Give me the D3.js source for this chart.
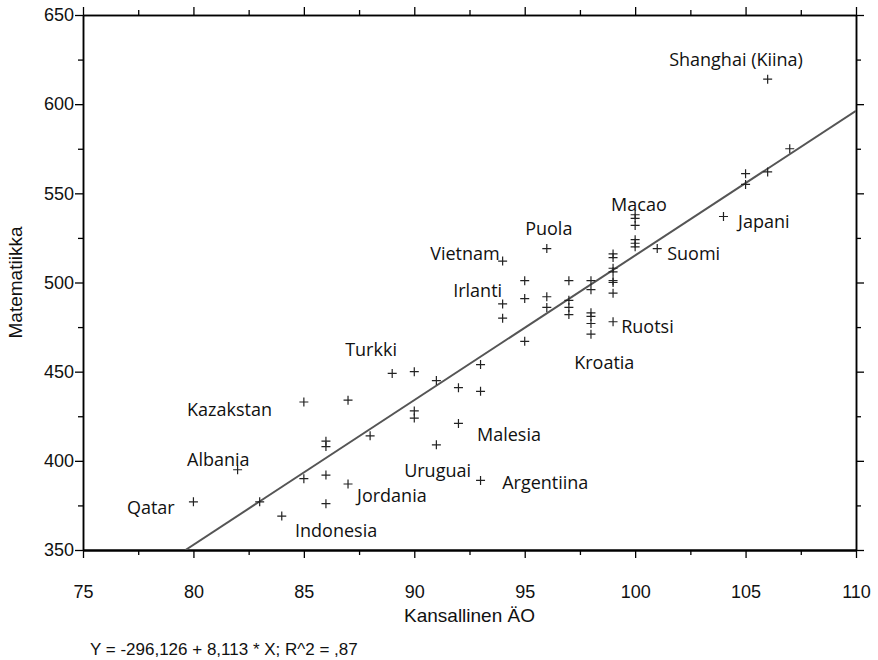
<!DOCTYPE html>
<html><head><meta charset="utf-8">
<script src="https://cdn.jsdelivr.net/npm/d3@7"></script>
<style>body{margin:0;background:#fff}</style>
</head><body>
<svg id="chart" width="878" height="660"></svg>
<script>
// Data: national IQ (x) and PISA mathematics score (y)
const iqValues = [80,82,83,84,85,85,86,86,86,86,87,87,88,89,90,90,90,91,91,92,92,93,93,93,94,94,94,95,95,95,96,96,96,97,97,97,97,98,98,98,98,98,98,99,99,99,99,99,99,99,99,100,100,100,100,100,100,101,104,105,105,106,106,107];
const mathValues = [377,395,377,369,433,390,411,408,392,376,434,387,414,449,450,428,424,445,409,441,421,454,439,389,512,488,480,501,491,467,519,492,486,501,490,486,482,501,496,483,481,477,471,516,514,508,506,501,500,494,478,538,536,532,524,522,520,519,537,561,555,614,562,575];

const labelNames = ["Shanghai (Kiina)","Macao","Japani","Puola","Suomi","Vietnam","Irlanti","Ruotsi","Turkki","Kroatia","Kazakstan","Malesia","Albania","Uruguai","Argentiina","Jordania","Qatar","Indonesia"];
const labelIQ = [101.54,98.91,104.66,95.02,101.45,90.72,91.76,99.37,86.87,97.24,79.71,92.84,79.71,89.54,93.98,87.41,76.99,84.60];
const labelMath = [624.8,543.5,534.1,530.2,516.2,516.2,495.3,475.1,462.2,455.4,428.5,414.5,401.0,394.3,388.1,380.8,373.6,360.7];

const xTicks = [75,80,85,90,95,100,105,110];
const yTicks = [350,400,450,500,550,600,650];
const xMinor = [77.5,82.5,87.5,92.5,97.5,102.5,107.5];
const yMinor = [375,425,475,525,575,625];

const intercept = -296.126, slope = 8.113;
const xTitle = "Kansallinen ÄO";
const yTitle = "Matematiikka";
const equation = "Y = -296,126 + 8,113 * X; R^2 = ,87";

const svg = d3.select("#chart");
const L = 83, R = 856, T = 15, B = 550;
const x = d3.scaleLinear().domain([75,110]).range([L,R]);
const y = d3.scaleLinear().domain([350,650]).range([B,T]);
const tickFont = "'Liberation Sans', Arial, sans-serif";

svg.append("defs").append("clipPath").attr("id","clip")
  .append("rect").attr("x",L).attr("y",T).attr("width",R-L).attr("height",B-T);

function styleAxis(g, sw){
  g.select(".domain").attr("stroke","#000").attr("stroke-width",sw);
  g.selectAll(".tick line").attr("stroke","#000").attr("stroke-width",1.3);
  g.selectAll(".tick text").attr("fill","#111").attr("font-family",tickFont).attr("font-size",18);
}
// bottom
const gb = svg.append("g").attr("transform",`translate(0,${B})`)
  .call(d3.axisBottom(x).tickValues(xTicks).tickSize(8).tickSizeOuter(0).tickPadding(27).tickFormat(d3.format("d")));
styleAxis(gb, 2);
const gbm = svg.append("g").attr("transform",`translate(0,${B})`)
  .call(d3.axisBottom(x).tickValues(xMinor).tickSize(5).tickSizeOuter(0).tickFormat(""));
styleAxis(gbm, 2);
// top
const gt = svg.append("g").attr("transform",`translate(0,${T})`)
  .call(d3.axisTop(x).tickValues(xTicks).tickSize(8).tickSizeOuter(0).tickFormat(""));
styleAxis(gt, 1.5);
const gtm = svg.append("g").attr("transform",`translate(0,${T})`)
  .call(d3.axisTop(x).tickValues(xMinor).tickSize(5).tickSizeOuter(0).tickFormat(""));
styleAxis(gtm, 1.5);
// left
const gl = svg.append("g").attr("transform",`translate(${L},0)`)
  .call(d3.axisLeft(y).tickValues(yTicks).tickSize(8).tickSizeOuter(0).tickPadding(1).tickFormat(d3.format("d")));
styleAxis(gl, 1.5);
const glm = svg.append("g").attr("transform",`translate(${L},0)`)
  .call(d3.axisLeft(y).tickValues(yMinor).tickSize(5).tickSizeOuter(0).tickFormat(""));
styleAxis(glm, 1.5);
// right
const gr = svg.append("g").attr("transform",`translate(${R},0)`)
  .call(d3.axisRight(y).tickValues(yTicks).tickSize(8).tickSizeOuter(0).tickFormat(""));
styleAxis(gr, 1.5);
const grm = svg.append("g").attr("transform",`translate(${R},0)`)
  .call(d3.axisRight(y).tickValues(yMinor).tickSize(5).tickSizeOuter(0).tickFormat(""));
styleAxis(grm, 1.5);

// regression line
const x0 = (350 - intercept)/slope;
svg.append("line").attr("clip-path","url(#clip)")
  .attr("x1",x(x0)).attr("y1",y(intercept+slope*x0))
  .attr("x2",x(110)).attr("y2",y(intercept+slope*110))
  .attr("stroke","#555").attr("stroke-width",2);

// points as plus markers
const pts = iqValues.map((v,i)=>({iq:v, m:mathValues[i]}));
const arm = 4.5;
const pg = svg.append("g").attr("stroke","#222").attr("stroke-width",1.2);
pg.selectAll("path").data(pts).join("path")
  .attr("d", d => {
    const cx = x(d.iq), cy = y(d.m);
    return `M${cx-arm},${cy}H${cx+arm}M${cx},${cy-arm}V${cy+arm}`;
  })
  .attr("fill","none");

// labels
svg.append("g").selectAll("text").data(labelNames).join("text")
  .attr("x",(d,i)=>x(labelIQ[i]))
  .attr("y",(d,i)=>y(labelMath[i]))
  .attr("dy","0.36em")
  .attr("font-family","'Open Sans', 'Noto Sans', sans-serif")
  .attr("font-size",18)
  .attr("fill","#111")
  .text(d=>d);

// axis titles
svg.append("text").attr("x",(L+R)/2).attr("y",615).attr("dy","0.36em")
  .attr("text-anchor","middle").attr("font-family",tickFont).attr("font-size",19).attr("fill","#111").text(xTitle);
svg.append("text").attr("transform",`translate(15,${(T+B)/2}) rotate(-90)`).attr("dy","0.36em")
  .attr("text-anchor","middle").attr("font-family",tickFont).attr("font-size",19).attr("fill","#111").text(yTitle);
// equation
svg.append("text").attr("x",90).attr("y",649).attr("dy","0.36em")
  .attr("font-family",tickFont).attr("font-size",17).attr("fill","#111").text(equation);
</script>
</body></html>
